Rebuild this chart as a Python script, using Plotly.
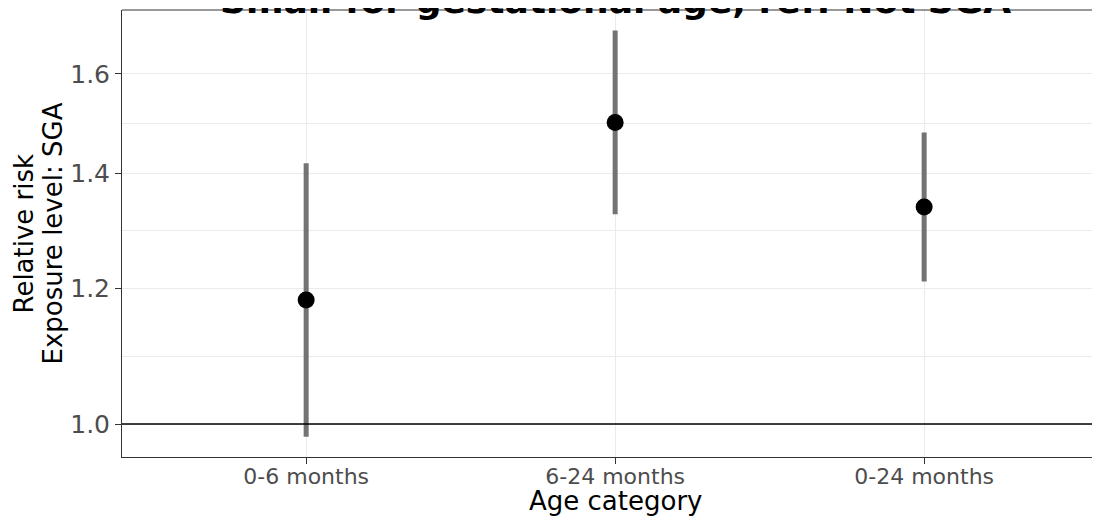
import plotly.graph_objects as go
import numpy as np

categories = ["0-6 months", "6-24 months", "0-24 months"]
rr = [1.181, 1.499, 1.338]
rr_low = [0.983, 1.325, 1.211]
rr_high = [1.419, 1.696, 1.479]
major_ticks = [1.0, 1.2, 1.4, 1.6]
tick_labels = ["1.0", "1.2", "1.4", "1.6"]
n_studies = 7

xpos = list(range(len(categories)))
err_plus = [h - m for h, m in zip(rr_high, rr)]
err_minus = [m - l for m, l in zip(rr, rr_low)]
minor_ticks = [float(np.sqrt(a * b)) for a, b in zip(major_ticks[:-1], major_ticks[1:])]

fig = go.Figure()
fig.add_trace(go.Scatter(
    x=xpos, y=rr, mode="markers",
    marker=dict(color="black", size=17),
    error_y=dict(type="data", symmetric=False, array=err_plus, arrayminus=err_minus,
                 color="#737373", thickness=5, width=0),
    showlegend=False,
))

fig.add_shape(type="line", xref="paper", x0=0, x1=1, yref="y", y0=1.0, y1=1.0,
              line=dict(color="black", width=1.6), layer="above")
# panel border: left / top / bottom (right edge lies outside the view)
fig.add_shape(type="line", xref="paper", x0=0, x1=1, yref="paper", y0=1, y1=1,
              line=dict(color="#333333", width=1), layer="above")

font = "DejaVu Sans"
fig.update_layout(
    width=1100, height=519,
    margin=dict(l=114, r=0, t=2, b=70, autoexpand=False),
    paper_bgcolor="white", plot_bgcolor="white",
    font=dict(family=font),
    xaxis=dict(
        range=[-0.596, 2.595], tickvals=xpos, ticktext=categories,
        showgrid=True, gridcolor="#ebebeb", gridwidth=1.1,
        showline=True, linecolor="#333333", linewidth=1, mirror=False,
        ticks="outside", ticklen=6, tickcolor="#333333",
        tickfont=dict(size=22, color="#4d4d4d", family=font),
        ticklabelstandoff=-6,
        zeroline=False,
    ),
    yaxis=dict(
        type="log", range=[-0.0192, 0.2413],
        tickvals=major_ticks, ticktext=tick_labels,
        showgrid=True, gridcolor="#ebebeb", gridwidth=1.1,
        minor=dict(tickvals=minor_ticks, showgrid=True, gridcolor="#ebebeb", gridwidth=0.6, ticks=""),
        showline=True, linecolor="#333333", linewidth=1, mirror=False,
        ticks="outside", ticklen=6, tickcolor="#333333",
        tickfont=dict(size=25, color="#4d4d4d", family=font),
        zeroline=False,
    ),
    annotations=[
        dict(text="<b>Small for gestational age, ref: Not SGA</b>", xref="x", x=1, xanchor="center",
             yref="paper", y=1, yanchor="bottom", yshift=-13, showarrow=False,
             font=dict(size=36, color="black", family=font)),
        dict(text="N studies: " + str(n_studies), xref="x", x=0.385, xanchor="center",
             yref="y", y=1.59, yanchor="middle",
             showarrow=False, font=dict(size=18, color="black", family=font)),
        dict(text="Age category", xref="x", x=1, xanchor="center", yref="paper", y=0, yanchor="middle",
             yshift=-44, showarrow=False,
             font=dict(size=26, color="black", family=font)),
        dict(text="Relative risk", xref="paper", x=0, xanchor="center", xshift=-(114 - 15),
             yref="paper", y=0.5, yanchor="middle",
             textangle=-90, showarrow=False, font=dict(size=26, color="black", family=font)),
        dict(text="Exposure level: SGA", xref="paper", x=0, xanchor="center", xshift=-(114 - 44),
             yref="paper", y=0.5, yanchor="middle",
             textangle=-90, showarrow=False, font=dict(size=26, color="black", family=font)),
    ],
)

fig.write_html("out.html")
